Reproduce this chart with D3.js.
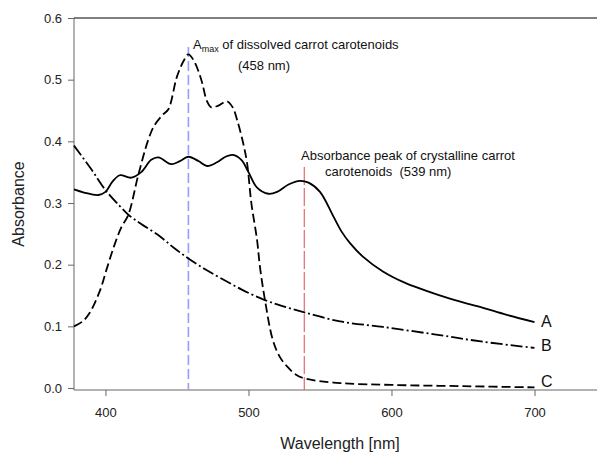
<!DOCTYPE html>
<html lang="en">
<head>
<meta charset="UTF-8">
<title>Carrot carotenoid absorbance</title>
<script src="https://d3js.org/d3.v7.min.js"></script>
<style>
    body { margin: 0; background: #fff; }
    svg { display: block; font-family: "Liberation Sans", Arial, sans-serif; }
</style>
</head>
<body>
<svg width="597" height="453"></svg>
<script>
    // series A: solid, crystalline carotenoids
    const waveA = [378, 385, 395, 400, 405, 410, 418, 425, 432, 437, 446, 452, 458, 465, 471, 478, 484, 489, 495, 500, 506, 514, 520, 528, 536, 542, 550, 559, 565, 571, 580, 594, 610, 629, 645, 664, 680, 700];
    const absA  = [0.322, 0.317, 0.313, 0.318, 0.335, 0.345, 0.341, 0.350, 0.370, 0.374, 0.363, 0.368, 0.375, 0.368, 0.360, 0.366, 0.375, 0.378, 0.370, 0.350, 0.325, 0.315, 0.318, 0.330, 0.336, 0.333, 0.318, 0.280, 0.254, 0.235, 0.213, 0.189, 0.170, 0.154, 0.142, 0.130, 0.119, 0.107];
    // series B: dash-dot
    const waveB = [378, 390, 400, 410, 416, 425, 438, 448, 458, 470, 480, 495, 511, 525, 540, 564, 594, 630, 664, 700];
    const absB  = [0.393, 0.355, 0.321, 0.295, 0.281, 0.266, 0.246, 0.227, 0.210, 0.192, 0.179, 0.160, 0.143, 0.132, 0.122, 0.108, 0.099, 0.087, 0.075, 0.065];
    // series C: dashed, dissolved carotenoids
    const waveC = [378, 384, 389, 396, 401, 406, 411, 416, 423, 430, 434, 440, 444, 450, 455, 458, 462, 467, 471, 474, 479, 485, 489, 492, 496, 499, 502, 506, 508, 511.5, 517, 522, 527, 533, 540, 564, 600, 650, 700];
    const absC  = [0.100, 0.108, 0.122, 0.157, 0.194, 0.230, 0.260, 0.281, 0.346, 0.403, 0.425, 0.443, 0.452, 0.505, 0.532, 0.541, 0.530, 0.500, 0.465, 0.455, 0.458, 0.465, 0.455, 0.435, 0.400, 0.365, 0.300, 0.240, 0.197, 0.143, 0.078, 0.050, 0.035, 0.022, 0.015, 0.008, 0.005, 0.003, 0.001];

    const xTicks = [400, 500, 600, 700];
    const yTicks = [0, 0.1, 0.2, 0.3, 0.4, 0.5, 0.6];
    const peakDissolved = 458;
    const peakCrystal = 539;

    const svg = d3.select("svg");
    const x = d3.scaleLinear().domain([378, 750]).range([74, 606]);
    const y = d3.scaleLinear().domain([0, 0.6]).range([388, 18]);
    const axisY = 390;

    // axes
    const gx = svg.append("g").attr("transform", `translate(0,${axisY})`)
        .call(d3.axisBottom(x).tickValues(xTicks).tickSize(6).tickPadding(12).tickFormat(d3.format("d")));
    gx.select(".domain").attr("d", `M${x.range()[0]},0H${x.range()[1]}`).attr("stroke", "#666");
    gx.selectAll(".tick line").attr("stroke", "#666");
    gx.selectAll(".tick text").attr("font-size", 13).attr("fill", "#222");

    const gy = svg.append("g").attr("transform", "translate(74,0)")
        .call(d3.axisLeft(y).tickValues(yTicks).tickSize(6).tickPadding(6).tickFormat(d3.format(".1f")));
    gy.select(".domain").attr("d", `M0,${y(0.6)}V${axisY}`).attr("stroke", "#666");
    gy.selectAll(".tick line").attr("stroke", "#666");
    gy.selectAll(".tick text").attr("font-size", 13).attr("fill", "#222");

    // top frame line
    svg.append("line")
        .attr("x1", x(378)).attr("x2", x(750))
        .attr("y1", y(0.6)).attr("y2", y(0.6))
        .attr("stroke", "#000").attr("stroke-width", 1);

    // axis titles
    svg.append("text")
        .attr("x", 340).attr("y", 449)
        .attr("text-anchor", "middle").attr("font-size", 16).attr("fill", "#222")
        .text("Wavelength [nm]");
    svg.append("text")
        .attr("transform", "translate(24,204) rotate(-90)")
        .attr("text-anchor", "middle").attr("font-size", 16).attr("fill", "#222")
        .text("Absorbance");

    // marker lines
    svg.append("line")
        .attr("x1", x(peakDissolved)).attr("x2", x(peakDissolved))
        .attr("y1", 47).attr("y2", axisY)
        .attr("stroke", "#9a9aff").attr("stroke-width", 1.6)
        .attr("stroke-dasharray", "10,4");
    svg.append("line")
        .attr("x1", x(peakCrystal)).attr("x2", x(peakCrystal))
        .attr("y1", 167).attr("y2", axisY)
        .attr("stroke", "#e04a4a").attr("stroke-width", 1)
        .attr("stroke-dasharray", "18,3");

    // curves
    const line = d3.line()
        .x(d => x(d[0]))
        .y(d => y(d[1]))
        .curve(d3.curveCatmullRom.alpha(0.5));

    const series = [
        {w: waveA, a: absA, dash: null},
        {w: waveB, a: absB, dash: "12,3,2,3"},
        {w: waveC, a: absC, dash: "9,4"}
    ];
    svg.append("g").selectAll("path")
        .data(series)
        .join("path")
        .attr("d", s => line(d3.zip(s.w, s.a)))
        .attr("fill", "none")
        .attr("stroke", "#000")
        .attr("stroke-width", 1.8)
        .attr("stroke-dasharray", s => s.dash);

    // annotations
    const t1 = svg.append("text").attr("x", 193).attr("y", 49)
        .attr("font-size", 13).attr("fill", "#111");
    t1.append("tspan").text("A");
    t1.append("tspan").attr("font-size", 9).attr("dy", 3).text("max");
    t1.append("tspan").attr("dy", -3).text(" of dissolved carrot carotenoids");
    svg.append("text").attr("x", 238).attr("y", 70)
        .attr("font-size", 13).attr("fill", "#111").text("(458 nm)");

    svg.append("text").attr("x", 301).attr("y", 160)
        .attr("font-size", 13).attr("fill", "#111").text("Absorbance peak of crystalline carrot");
    svg.append("text").attr("x", 325).attr("y", 176)
        .attr("font-size", 13).attr("fill", "#111").attr("xml:space", "preserve")
        .text("carotenoids  (539 nm)");

    // curve labels
    const curveLabels = ["A", "B", "C"];
    const labelY = [327, 351, 387];
    svg.append("g").selectAll("text")
        .data(curveLabels)
        .join("text")
        .attr("x", 541)
        .attr("y", (d, i) => labelY[i])
        .attr("font-size", 16).attr("fill", "#111")
        .text(d => d);
</script>
</body>
</html>
